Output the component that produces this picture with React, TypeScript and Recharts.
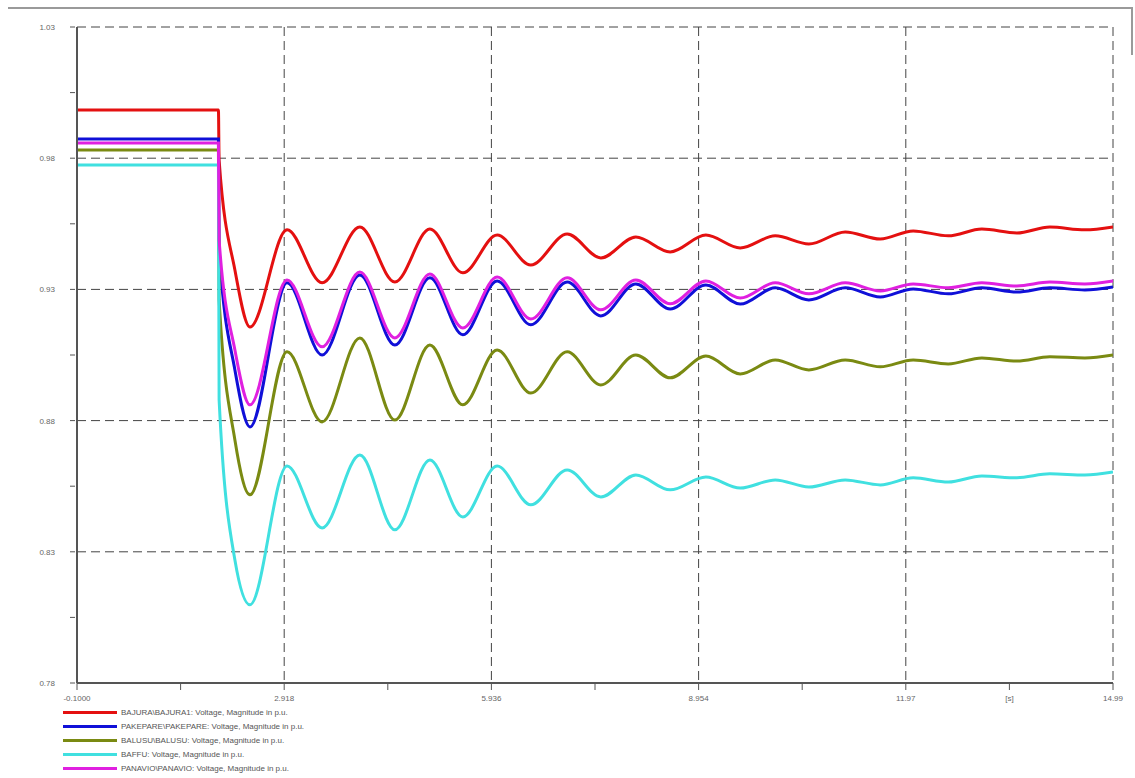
import { LineChart, Line, XAxis, YAxis, CartesianGrid } from "recharts";

// time stamps (s) at the step and at each swing extremum
const times = [
  -0.1, 1.96, 1.97, 2.2, 2.42, 2.96, 3.47, 4.02, 4.53, 5.04, 5.52, 6.02, 6.51,
  7.04, 7.53, 8.04, 8.54, 9.06, 9.56, 10.07, 10.56, 11.09, 11.6, 12.08, 12.59,
  13.08, 13.59, 14.07, 14.58, 14.99,
];

const bajura = [
  0.9984, 0.9984, 0.9793, 0.9374, 0.9157, 0.9527, 0.9325, 0.9538, 0.9328,
  0.953, 0.9363, 0.9507, 0.9393, 0.9511, 0.942, 0.95, 0.9443, 0.9507, 0.9458,
  0.9504, 0.9473, 0.9519, 0.9492, 0.9523, 0.9504, 0.953, 0.9515, 0.9538,
  0.9527, 0.9538,
];
const pakepare = [
  0.9873, 0.9873, 0.945, 0.8993, 0.8776, 0.9325, 0.905, 0.9355, 0.9088,
  0.9344, 0.9127, 0.9332, 0.9165, 0.9328, 0.9199, 0.9321, 0.9225, 0.9317,
  0.9244, 0.9306, 0.926, 0.9306, 0.9271, 0.9302, 0.9283, 0.9306, 0.929,
  0.9306, 0.9298, 0.9309,
];
const balusu = [
  0.9831, 0.9831, 0.926, 0.8726, 0.8517, 0.9062, 0.8795, 0.9115, 0.8802,
  0.9088, 0.886, 0.9069, 0.8905, 0.9062, 0.8936, 0.905, 0.8963, 0.9046,
  0.8978, 0.9031, 0.8993, 0.9031, 0.9005, 0.9031, 0.9016, 0.9039, 0.9027,
  0.9043, 0.9039, 0.905,
];
const baffu = [
  0.9774, 0.9774, 0.8879, 0.8269, 0.8098, 0.8627, 0.8391, 0.8669, 0.8384,
  0.865, 0.8433, 0.8627, 0.8479, 0.8612, 0.8509, 0.8593, 0.8536, 0.8585,
  0.8543, 0.8574, 0.8547, 0.8574, 0.8555, 0.8582, 0.8566, 0.8589, 0.8582,
  0.8597, 0.8593, 0.8604,
];
const panavio = [
  0.9858, 0.9858, 0.9488, 0.9069, 0.886, 0.9336, 0.9081, 0.9366, 0.9115,
  0.9359, 0.9153, 0.9347, 0.9187, 0.9344, 0.9222, 0.9336, 0.9245, 0.9332,
  0.9267, 0.9325, 0.9283, 0.9325, 0.9294, 0.9321, 0.9306, 0.9325, 0.9313,
  0.9328, 0.9321, 0.9332,
];

const xTicks = [-0.1, 2.918, 5.936, 8.954, 11.972, 14.99];
const xTickLabels = ["-0.1000", "2.918", "5.936", "8.954", "11.97", "14.99"];
const xMinor = [1.409, 4.427, 7.445, 10.463, 13.481];
const yTicks = [0.78, 0.83, 0.88, 0.93, 0.98, 1.03];
const yTickLabels = ["0.78", "0.83", "0.88", "0.93", "0.98", "1.03"];
const yMinor = [0.805, 0.855, 0.905, 0.955, 1.005];

const series = [
  { key: "bajura", name: "BAJURA\\BAJURA1: Voltage, Magnitude in p.u.", color: "#e41010", values: bajura },
  { key: "pakepare", name: "PAKEPARE\\PAKEPARE: Voltage, Magnitude in p.u.", color: "#1010d8", values: pakepare },
  { key: "balusu", name: "BALUSU\\BALUSU: Voltage, Magnitude in p.u.", color: "#7a8a12", values: balusu },
  { key: "baffu", name: "BAFFU: Voltage, Magnitude in p.u.", color: "#40e0e0", values: baffu },
  { key: "panavio", name: "PANAVIO\\PANAVIO: Voltage, Magnitude in p.u.", color: "#e020e0", values: panavio },
];

const rows = times.map((t, i) => {
  const row: Record<string, number> = { t };
  series.forEach((s) => {
    row[s.key] = s.values[i];
  });
  return row;
});

const font = "'Liberation Sans', Arial, sans-serif";

function XTick(props: any) {
  const { x, y, payload } = props;
  const v = payload.value;
  const major = xTicks.indexOf(v);
  let label = major >= 0 ? xTickLabels[major] : "";
  if (v === xMinor[xMinor.length - 1]) label = "[s]";
  return (
    <g>
      <line x1={x} x2={x} y1={y - 8} y2={y - 1} stroke="#555" strokeWidth={1} />
      {label && (
        <text x={x} y={y + 10} textAnchor="middle" fontSize={8} fill="#666" fontFamily={font}>
          {label}
        </text>
      )}
    </g>
  );
}

function YTick(props: any) {
  const { x, y, payload } = props;
  const major = yTicks.indexOf(payload.value);
  return (
    <g>
      <line x1={x + 1} x2={x + 6} y1={y} y2={y} stroke="#555" strokeWidth={1} />
      {major >= 0 && (
        <text x={x - 14} y={y + 3} textAnchor="end" fontSize={8} fill="#666" fontFamily={font}>
          {yTickLabels[major]}
        </text>
      )}
    </g>
  );
}

export default function App() {
  return (
    <div style={{ position: "absolute", left: 0, top: 0, width: 1135, height: 778, background: "#fff" }}>
      <div style={{ position: "absolute", left: 8, top: 7, width: 1124, height: 2, background: "#9a9a9a" }} />
      <div style={{ position: "absolute", left: 1131, top: 7, width: 2, height: 48, background: "#9a9a9a" }} />
      <LineChart
        width={1135}
        height={778}
        data={rows}
        margin={{ top: 27, right: 22, left: 0, bottom: 70 }}
      >
        <CartesianGrid
          stroke="#444"
          strokeDasharray="9 5"
          horizontalValues={yTicks}
          verticalValues={xTicks}
        />
        <XAxis
          dataKey="t"
          type="number"
          domain={[-0.1, 14.99]}
          ticks={[...xTicks, ...xMinor].sort((a, b) => a - b)}
          interval={0}
          height={25}
          tickLine={false}
          tick={<XTick />}
          axisLine={{ stroke: "#555", strokeWidth: 2 }}
          allowDataOverflow
        />
        <YAxis
          type="number"
          domain={[0.78, 1.03]}
          ticks={[...yTicks, ...yMinor].sort((a, b) => a - b)}
          interval={0}
          width={77}
          tickLine={false}
          tick={<YTick />}
          axisLine={{ stroke: "#555", strokeWidth: 2 }}
          allowDataOverflow
        />
        {series.map((s) => (
          <Line
            key={s.key}
            type="monotone"
            dataKey={s.key}
            stroke={s.color}
            strokeWidth={3}
            dot={false}
            isAnimationActive={false}
          />
        ))}
      </LineChart>
      <div style={{ position: "absolute", left: 63, top: 705, fontFamily: font, fontSize: 8, color: "#555" }}>
        {series.map((s) => (
          <div key={s.key} style={{ display: "flex", alignItems: "center", height: 14.2 }}>
            <span style={{ display: "inline-block", width: 54, height: 3, background: s.color, marginRight: 4 }} />
            {s.name}
          </div>
        ))}
      </div>
    </div>
  );
}
